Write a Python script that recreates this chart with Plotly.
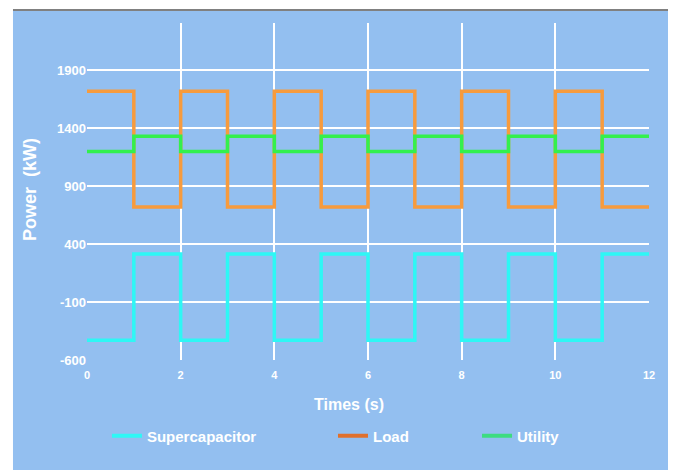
import plotly.graph_objects as go

# ---- data ----
times = [0, 1, 2, 3, 4, 5, 6, 7, 8, 9, 10, 11, 12]
supercapacitor = [-430, 315, -430, 315, -430, 315, -430, 315, -430, 315, -430, 315, 315]
load = [1720, 720, 1720, 720, 1720, 720, 1720, 720, 1720, 720, 1720, 720, 720]
utility = [1200, 1330, 1200, 1330, 1200, 1330, 1200, 1330, 1200, 1330, 1200, 1330, 1330]

series_names = ["Supercapacitor", "Load", "Utility"]
x_ticks = [0, 2, 4, 6, 8, 10, 12]
y_ticks = [-600, -100, 400, 900, 1400, 1900]
y_tick_labels = ["-600", "-100", "400", "900", "1400", "1900"]

# ---- styles ----
BG = "#93BFF0"
FONT = "Liberation Sans, Arial, sans-serif"
line_colors = ["#2EF7F5", "#F79B3D", "#33F04D"]
legend_colors = ["#2EF7F5", "#E0702C", "#3DDC80"]

fig = go.Figure()
for name, vals, col in zip(series_names, [supercapacitor, load, utility], line_colors):
    fig.add_trace(go.Scatter(x=times, y=vals, mode="lines", name=name,
                             line=dict(color=col, width=3.5, shape="hv"),
                             showlegend=False, cliponaxis=False))

legend_ids = ["legend", "legend2", "legend3"]
for name, col, lid in zip(series_names, legend_colors, legend_ids):
    fig.add_trace(go.Scatter(x=[None], y=[None], mode="lines", name=name,
                             line=dict(color=col, width=4), legend=lid,
                             showlegend=True))

legend_font = dict(family=FONT, size=15, color="white", weight="bold")
def leg(x):
    return dict(x=x, y=-0.2255, xanchor="left", yanchor="middle", orientation="h",
                bgcolor="rgba(0,0,0,0)", font=legend_font, borderwidth=0)

fig.update_layout(
    width=668, height=462,
    margin=dict(l=79, r=27, t=15, b=110),
    paper_bgcolor="white", plot_bgcolor=BG,
    legend=leg(0.0355), legend2=leg(0.4377), legend3=leg(0.694),
    shapes=[
        dict(type="rect", xref="paper", yref="paper", x0=-0.1317, x1=1.0338,
             y0=-0.33, y1=1.0356, fillcolor=BG, line=dict(width=0), layer="below"),
        dict(type="line", xref="paper", yref="paper", x0=-0.1317, x1=1.037,
             y0=1.0386, y1=1.0386, line=dict(color="#808080", width=2)),
    ],
    annotations=[
        dict(text="Times (s)", xref="paper", yref="paper", x=0.466, y=-0.1306,
             xanchor="center", yanchor="middle", showarrow=False,
             font=dict(family=FONT, size=16, color="white", weight="bold")),
        dict(text="Power\u00a0 (kW)", xref="paper", yref="paper", x=-0.1014, y=0.5045,
             xanchor="center", yanchor="middle", showarrow=False, textangle=-90,
             font=dict(family=FONT, size=18, color="white", weight="bold")),
    ],
)

fig.update_xaxes(range=[0, 12], tickvals=x_ticks, showgrid=True, gridcolor="white",
                 gridwidth=1.5, zeroline=False, showline=False, ticks="",
                 ticklabelstandoff=7,
                 tickfont=dict(family=FONT, size=11, color="white", weight="bold"))
fig.update_yaxes(range=[-600, 2308], tickvals=y_ticks, ticktext=y_tick_labels,
                 showgrid=True, gridcolor="white",
                 gridwidth=1.5, zeroline=False, showline=False, ticks="",
                 tickfont=dict(family=FONT, size=13, color="white", weight="bold"))

fig.write_html("out.html")
